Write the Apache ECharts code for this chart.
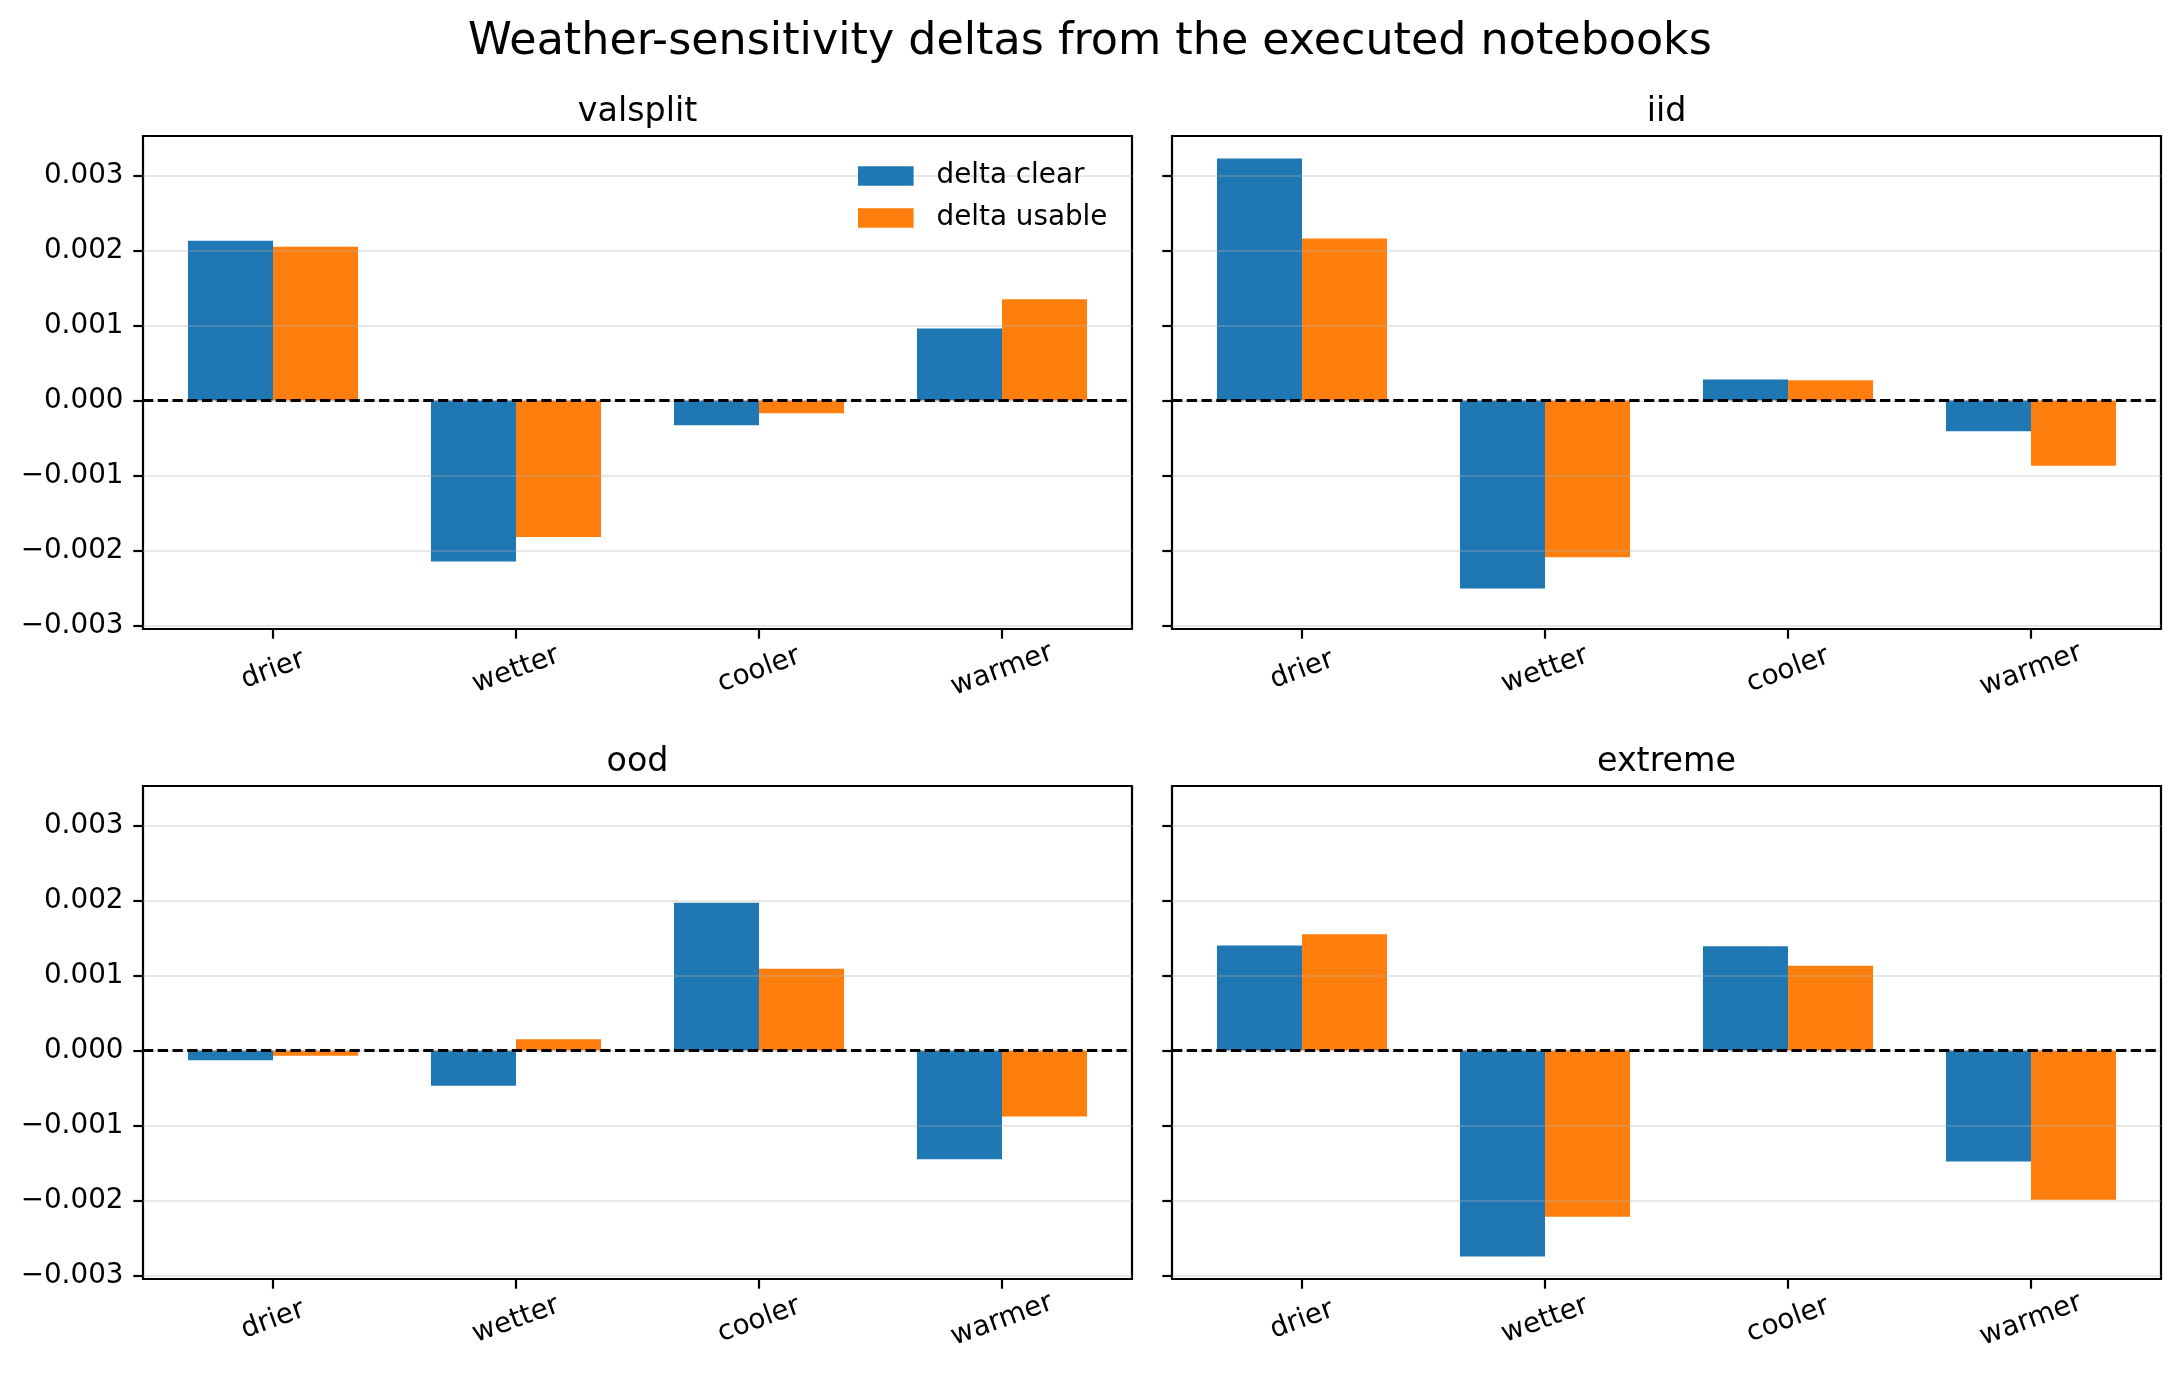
<!DOCTYPE html>
<html>
<head>
<meta charset="utf-8">
<script src="https://cdn.jsdelivr.net/npm/echarts@6/dist/echarts.min.js"></script>
<style>
  html, body { margin: 0; padding: 0; background: #fff; }
  #chart { width: 2180px; height: 1381px; }
</style>
</head>
<body>
<div id="chart"></div>
<script>
// ---- data ----
const categories = ['drier', 'wetter', 'cooler', 'warmer'];
const panelNames = ['valsplit', 'iid', 'ood', 'extreme'];
const seriesNames = ['delta clear', 'delta usable'];

const valsplitClear  = [0.00213, -0.00215, -0.00033, 0.00096];
const valsplitUsable = [0.00205, -0.00182, -0.00017, 0.00135];
const iidClear       = [0.00323, -0.00251, 0.00028, -0.00041];
const iidUsable      = [0.00216, -0.00209, 0.00027, -0.00087];
const oodClear       = [-0.00013, -0.00047, 0.00197, -0.00145];
const oodUsable      = [-0.00007, 0.00015, 0.00109, -0.00088];
const extremeClear   = [0.00140, -0.00275, 0.00139, -0.00148];
const extremeUsable  = [0.00155, -0.00222, 0.00113, -0.00199];

const yTicks = [-0.003, -0.002, -0.001, 0, 0.001, 0.002, 0.003];
const xTicks = [0, 1, 2, 3];

const panelData = [
  [valsplitClear, valsplitUsable],
  [iidClear, iidUsable],
  [oodClear, oodUsable],
  [extremeClear, extremeUsable]
];

// ---- layout / style ----
const FONT = 'DejaVu Sans';
const colors = ['#1f77b4', '#ff7f0e'];
const gridBoxes = [
  { left: 143, top: 136 },
  { left: 1172, top: 136 },
  { left: 143, top: 786 },
  { left: 1172, top: 786 }
];
const GW = 989, GH = 493;
const BAR_W = 0.35;
const xMin = -BAR_W - 0.05 * (3 + 2 * BAR_W);
const xMax = 3 + BAR_W + 0.05 * (3 + 2 * BAR_W);
const barPx = GW / (xMax - xMin) * BAR_W;

const allVals = panelData.flat(2);
const lo = Math.min(...allVals), hi = Math.max(...allVals);
const yMin = lo - 0.05 * (hi - lo), yMax = hi + 0.05 * (hi - lo);

const fmtY = v => (v < -1e-12 ? '\u2212' : '') + Math.abs(v).toFixed(3);

const grids = [], xAxes = [], yAxes = [], series = [], titles = [];

titles.push({
  text: 'Weather-sensitivity deltas from the executed notebooks',
  left: 1090, top: 20, textAlign: 'center', padding: 0,
  textStyle: { fontFamily: FONT, fontSize: 44.4, fontWeight: 'normal', color: '#000' }
});

panelNames.forEach((name, p) => {
  const b = gridBoxes[p];
  grids.push({
    left: b.left, top: b.top, width: GW, height: GH,
    show: true, borderColor: '#000', borderWidth: 2.2, backgroundColor: '#fff'
  });
  titles.push({
    text: name, left: b.left + GW / 2, top: b.top - 40, textAlign: 'center', padding: 0,
    textStyle: { fontFamily: FONT, fontSize: 33.3, fontWeight: 'normal', color: '#000' }
  });
  xAxes.push({
    type: 'value', gridIndex: p, min: xMin, max: xMax, position: 'bottom',
    axisLine: { show: false, onZero: false },
    splitLine: { show: false },
    axisTick: { show: true, customValues: xTicks, length: 9.7, lineStyle: { color: '#000', width: 2.2 } },
    axisLabel: {
      show: true, customValues: xTicks, rotate: 20, align: 'center', verticalAlign: 'middle',
      margin: 41, fontFamily: FONT, fontSize: 27.8, color: '#000',
      formatter: v => categories[Math.round(v)]
    }
  });
  yAxes.push({
    type: 'value', gridIndex: p, min: yMin, max: yMax, z: 3, position: 'left',
    axisLine: { show: false, onZero: false },
    splitLine: { show: true, lineStyle: { color: 'rgba(176,176,176,0.3)', width: 2.2 } },
    axisTick: { show: true, customValues: yTicks, length: 9.7, lineStyle: { color: '#000', width: 2.2 } },
    axisLabel: {
      show: p % 2 === 0, customValues: yTicks, margin: 19.5,
      fontFamily: FONT, fontSize: 27.8, color: '#000', formatter: fmtY
    }
  });
  panelData[p].forEach((vals, s) => {
    const ser = {
      type: 'bar', name: seriesNames[s], xAxisIndex: p, yAxisIndex: p,
      barWidth: barPx, barGap: '0%', z: 2,
      itemStyle: { color: colors[s] },
      data: vals.map((v, i) => [i, v]),
      animation: false
    };
    if (s === 1) {
      ser.markLine = {
        symbol: 'none', silent: true, z: 5, label: { show: false },
        lineStyle: { color: '#000', width: 2.78, type: [10.3, 4.45] },
        data: [{ yAxis: 0 }]
      };
    }
    series.push(ser);
  });
});

const chart = echarts.init(document.getElementById('chart'), null, { renderer: 'canvas' });
chart.setOption({
  animation: false,
  backgroundColor: '#fff',
  title: titles,
  legend: {
    data: seriesNames, orient: 'vertical', left: 858, top: 162, padding: 0,
    itemWidth: 55.6, itemHeight: 19.4, itemGap: 14, icon: 'rect',
    textStyle: { fontFamily: FONT, fontSize: 27.8, color: '#000', padding: [0, 0, 0, 18] }
  },
  grid: grids,
  xAxis: xAxes,
  yAxis: yAxes,
  series: series
});
</script>
</body>
</html>
